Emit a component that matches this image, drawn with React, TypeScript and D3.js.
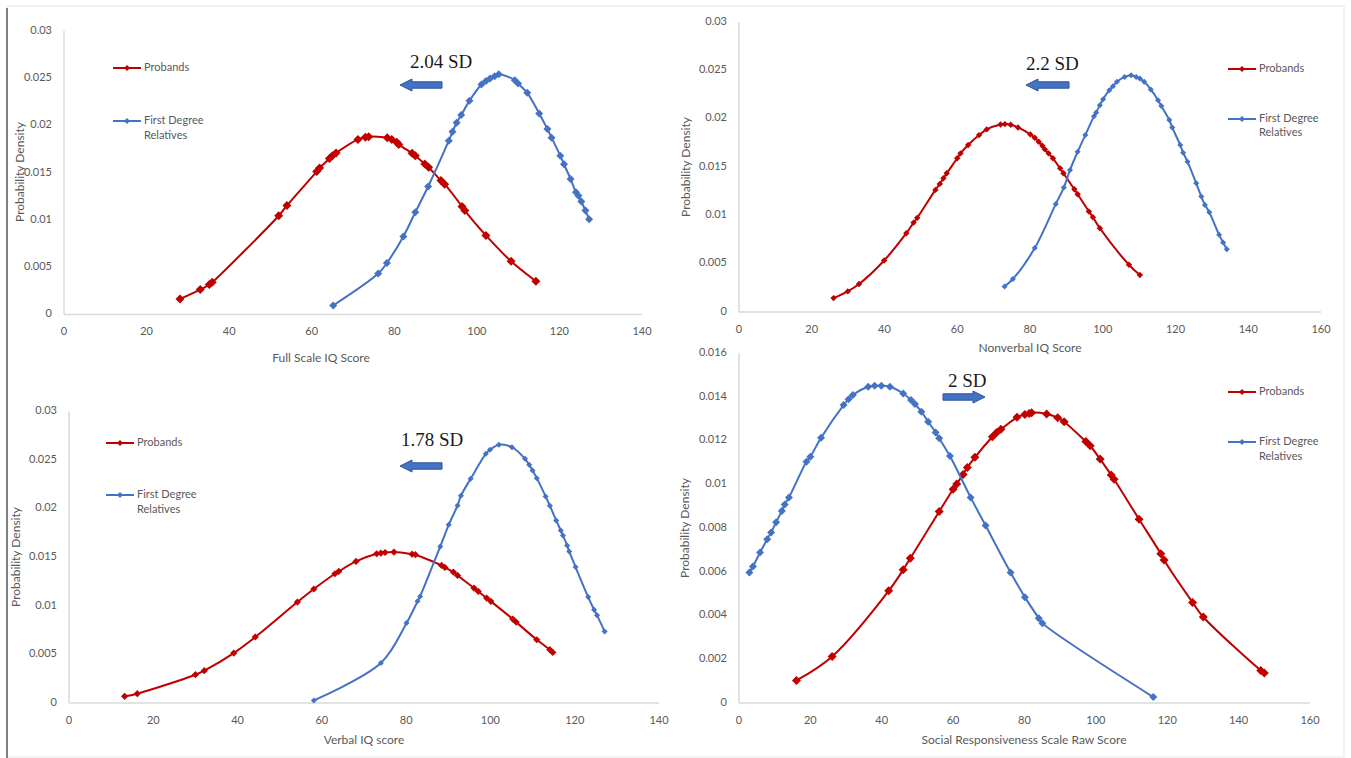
import React from 'react';
import * as d3 from 'd3';

type Pt = [number, number];

// ---------- DATA ----------
const fsiqProbands: Pt[] = [
  [28.1, 0.00165], [33.0, 0.00264], [35.2, 0.00317], [35.9, 0.0034], [52.0, 0.01045], [54.0, 0.01154],
  [61.2, 0.01512], [61.9, 0.0155], [64.3, 0.0165], [65.0, 0.0168], [65.9, 0.0171], [71.2, 0.01853],
  [73.0, 0.01875], [73.8, 0.01882], [78.3, 0.01871], [79.4, 0.01853], [80.6, 0.01822], [81.1, 0.018],
  [84.3, 0.01706], [85.1, 0.0168], [87.4, 0.01593], [88.3, 0.01558], [91.3, 0.01417], [92.2, 0.01379],
  [96.4, 0.01143], [97.1, 0.011], [102.2, 0.00837], [108.3, 0.00563], [114.3, 0.00352],
];
const fsiqRelatives: Pt[] = [
  [65.2, 0.00095], [76.1, 0.00433], [78.2, 0.00545], [82.2, 0.00826], [85.1, 0.01083], [88.2, 0.01354],
  [93.2, 0.01839], [94.1, 0.01934], [95.1, 0.0203], [96.2, 0.0211], [98.2, 0.02261], [101.1, 0.02434],
  [102.2, 0.02472], [103.2, 0.02497], [104.3, 0.02522], [105.3, 0.02543], [109.2, 0.0248], [110.0, 0.02444],
  [112.2, 0.02346], [115.1, 0.02128], [117.1, 0.01962], [118.1, 0.01871], [120.2, 0.01681], [121.1, 0.0159],
  [122.7, 0.01435], [124.0, 0.01294], [124.6, 0.01256], [125.3, 0.01196], [126.3, 0.011], [127.2, 0.01009],
];
const nviqProbands: Pt[] = [
  [26.0, 0.00144], [29.9, 0.00213], [33.0, 0.00289], [39.9, 0.00533], [46.0, 0.00815], [48.0, 0.00925],
  [49.0, 0.00974], [54.0, 0.01263], [55.2, 0.01325], [56.2, 0.01383], [57.1, 0.01435], [60.0, 0.0159],
  [60.9, 0.01641], [63.0, 0.01727], [66.0, 0.0183], [68.1, 0.01889], [71.9, 0.0194], [73.1, 0.01944],
  [74.7, 0.01937], [76.7, 0.01909], [80.1, 0.01837], [81.3, 0.01803], [82.4, 0.01761], [83.4, 0.0172],
  [84.1, 0.01682], [85.1, 0.01641], [86.3, 0.0159], [88.3, 0.01486], [89.2, 0.01435], [92.2, 0.0127],
  [93.1, 0.01218], [96.2, 0.01039], [97.3, 0.0098], [99.2, 0.00867], [107.2, 0.00489], [110.2, 0.00382],
];
const nviqRelatives: Pt[] = [
  [73.0, 0.00265], [75.3, 0.00341], [81.3, 0.00661], [87.1, 0.01118], [89.3, 0.01287], [91.0, 0.01469],
  [93.1, 0.01658], [95.2, 0.0183], [97.6, 0.02026], [98.2, 0.02064], [99.2, 0.0214], [100.1, 0.02202],
  [101.8, 0.02295], [102.8, 0.02336], [103.9, 0.02381], [106.0, 0.02432], [107.8, 0.0245], [109.2, 0.02432],
  [110.2, 0.02415], [111.4, 0.02381], [113.2, 0.02302], [115.2, 0.02191], [116.1, 0.0213], [118.3, 0.01985],
  [119.1, 0.01909], [121.3, 0.01727], [122.1, 0.01648], [123.3, 0.01555], [125.7, 0.01331], [127.1, 0.01194],
  [128.1, 0.01108], [129.3, 0.01032], [132.0, 0.00798], [133.1, 0.00719], [134.1, 0.0065],
];
const viqProbands: Pt[] = [
  [13.2, 0.00069], [16.2, 0.00096], [30.0, 0.00291], [32.1, 0.00333], [39.1, 0.00514], [44.2, 0.00679],
  [54.2, 0.01039], [58.1, 0.01173], [63.1, 0.0133], [64.0, 0.01354], [68.1, 0.01457], [73.0, 0.01536],
  [74.0, 0.01543], [75.0, 0.01549], [77.1, 0.01553], [81.4, 0.01532], [82.2, 0.01526], [88.4, 0.01416],
  [89.2, 0.01395], [91.2, 0.01347], [92.2, 0.01313], [96.1, 0.01183], [97.1, 0.01149], [99.1, 0.0108],
  [100.1, 0.01046], [105.3, 0.00864], [106.1, 0.00833], [111.0, 0.00651], [114.1, 0.00549], [114.8, 0.00521],
];
const viqRelatives: Pt[] = [
  [58.1, 0.00027], [74.0, 0.00411], [80.1, 0.00823], [82.7, 0.01046], [83.3, 0.01097], [88.1, 0.01611],
  [90.1, 0.01834], [92.2, 0.02033], [93.0, 0.02133], [95.3, 0.02307], [98.9, 0.02565], [99.9, 0.02606],
  [102.0, 0.02657], [105.1, 0.02633], [108.2, 0.02513], [109.2, 0.02451], [110.0, 0.02393], [111.0, 0.02314],
  [113.1, 0.02126], [114.1, 0.0203], [115.6, 0.01879], [116.7, 0.01776], [117.2, 0.01725], [118.2, 0.01622],
  [118.7, 0.0156], [120.2, 0.01399], [123.2, 0.0109], [124.6, 0.0096], [125.3, 0.00902], [127.1, 0.00737],
];
const srsProbands: Pt[] = [
  [16.1, 0.00103], [26.1, 0.00213], [41.95, 0.00513], [46.0, 0.00609], [48.0, 0.00662], [56.1, 0.00875],
  [60.0, 0.00977], [61.0, 0.01001], [62.8, 0.01045], [64.0, 0.01077], [66.1, 0.01123], [71.0, 0.01217],
  [72.2, 0.01237], [73.4, 0.01251], [77.9, 0.01306], [80.1, 0.01319], [81.3, 0.01324], [82.0, 0.01327],
  [86.2, 0.01321], [89.3, 0.01304], [91.1, 0.01286], [97.2, 0.01195], [98.4, 0.01176], [101.2, 0.01115],
  [104.3, 0.01042], [105.1, 0.01023], [112.1, 0.0084], [118.2, 0.00682], [119.1, 0.00654], [127.1, 0.0046],
  [130.1, 0.00393], [146.2, 0.00149], [147.2, 0.00137],
];
const srsRelatives: Pt[] = [
  [2.9, 0.00597], [3.9, 0.00624], [5.9, 0.00688], [7.9, 0.00749], [9.0, 0.00779], [10.4, 0.00826],
  [12.0, 0.00878], [12.8, 0.00908], [14.0, 0.0094], [18.9, 0.01103], [20.0, 0.01126], [23.0, 0.01213],
  [29.3, 0.01362], [30.7, 0.01389], [31.9, 0.01408], [36.2, 0.01446], [38.0, 0.0145], [39.9, 0.0145],
  [42.3, 0.01446], [46.0, 0.01415], [48.2, 0.01385], [49.3, 0.01367], [51.1, 0.01332], [53.0, 0.01286],
  [55.1, 0.01237], [56.1, 0.0121], [59.1, 0.01129], [64.9, 0.0094], [69.1, 0.00811], [76.1, 0.00597],
  [80.1, 0.00484], [84.0, 0.00388], [85.0, 0.00365], [116.1, 0.00027],
];

const probandsLabel = 'Probands';
const relativesLabel = ['First Degree', 'Relatives'];
const yTitle = 'Probability Density';
const xTitles = ['Full Scale IQ Score', 'Nonverbal IQ Score', 'Verbal IQ score', 'Social Responsiveness Scale Raw Score'];
const sdLabels = ['2.04 SD', '2.2 SD', '1.78 SD', '2 SD'];
const xMaxes = [140, 160, 140, 160];
const yMaxes = [0.03, 0.03, 0.03, 0.016];
const yTickSteps = [0.005, 0.005, 0.005, 0.002];
const xTickStep = 20;
const probandSeries = [fsiqProbands, nviqProbands, viqProbands, srsProbands];
const relativeSeries = [fsiqRelatives, nviqRelatives, viqRelatives, srsRelatives];

// ---------- LAYOUT ----------
const RED = '#C00000';
const BLUE = '#4472C4';
const GRAY_TXT = '#595959';
const AXIS = '#D9D9D9';
const SANS = 'Lato, "Open Sans", sans-serif';

interface Layout {
  x0: number; x1: number; y0: number; y1: number;
  legX: number; legY1: number; legY2: number; legY3: number;
  yTitleX: number; yTitleY: number; xTitleX: number; xTitleY: number;
  annX: number; annY: number; arrTip: number; arrTail: number; arrY: number;
  rRed: number; rBlue: number;
}

const layouts: Layout[] = [
  { x0: 64, x1: 642, y0: 314.5, y1: 31, legX: 113, legY1: 68, legY2: 121, legY3: 136,
    yTitleX: 21, yTitleY: 172, xTitleX: 321, xTitleY: 359,
    annX: 410, annY: 64, arrTip: 400, arrTail: 442, arrY: 85, rRed: 4.5, rBlue: 4 },
  { x0: 739, x1: 1321, y0: 312, y1: 22, legX: 1228, legY1: 69, legY2: 119, legY3: 133,
    yTitleX: 687, yTitleY: 167, xTitleX: 1030, xTitleY: 349,
    annX: 1026, annY: 66, arrTip: 1026, arrTail: 1069, arrY: 85, rRed: 3.2, rBlue: 3 },
  { x0: 69, x1: 659, y0: 703, y1: 411.5, legX: 106, legY1: 443, legY2: 495, legY3: 510,
    yTitleX: 17, yTitleY: 557, xTitleX: 364, xTitleY: 741,
    annX: 401, annY: 442, arrTip: 400, arrTail: 442, arrY: 466, rRed: 3.6, rBlue: 3 },
  { x0: 739, x1: 1310, y0: 703, y1: 353, legX: 1228, legY1: 392, legY2: 442, legY3: 457,
    yTitleX: 686, yTitleY: 528, xTitleX: 1024, xTitleY: 741,
    annX: 948, annY: 383, arrTip: 985, arrTail: 943, arrY: 397, rRed: 4.5, rBlue: 4 },
];

const diamond = (r: number) => `M0,${-r}L${r},0L0,${r}L${-r},0Z`;
const fmtY = (v: number) => (v === 0 ? '0' : String(+v.toFixed(3)));

function Arrow({ tip, tail, y }: { tip: number; tail: number; y: number }) {
  const dir = tail > tip ? 1 : -1; // body extends from tip in dir
  const head = 12;
  const bh = 3.2;
  const hh = 6;
  const hx = tip + dir * head;
  const d = `M${tip},${y}L${hx},${y - hh}L${hx},${y - bh}L${tail},${y - bh}L${tail},${y + bh}L${hx},${y + bh}L${hx},${y + hh}Z`;
  return <path d={d} fill={BLUE} stroke="#2F5597" strokeWidth={1} />;
}

function Panel({ i }: { i: number }) {
  const L = layouts[i];
  const x = d3.scaleLinear().domain([0, xMaxes[i]]).range([L.x0, L.x1]);
  const y = d3.scaleLinear().domain([0, yMaxes[i]]).range([L.y0, L.y1]);
  const xTicks = d3.range(0, xMaxes[i] + 0.001, xTickStep);
  const yTicks = d3.range(0, Math.round(yMaxes[i] / yTickSteps[i]) + 1).map((k) => k * yTickSteps[i]);
  const line = d3.line<Pt>().x((d) => x(d[0])).y((d) => y(d[1])).curve(d3.curveCatmullRom.alpha(0.5));

  const series = [
    { data: relativeSeries[i], color: BLUE, r: L.rBlue },
    { data: probandSeries[i], color: RED, r: L.rRed },
  ];
  // draw order: in panel 4 blue on top? keep red last except SRS
  const order = i === 3 ? [series[1], series[0]] : [series[1], series[0]];

  return (
    <g>
      {/* axes */}
      <line x1={L.x0} x2={L.x0} y1={L.y1} y2={L.y0} stroke={AXIS} strokeWidth={1.5} />
      <line x1={L.x0} x2={L.x1} y1={L.y0} y2={L.y0} stroke={AXIS} strokeWidth={1.5} />
      {yTicks.map((t) => (
        <text key={'y' + t} x={L.x0 - 12} y={y(t)} textAnchor="end" dominantBaseline="middle"
          fontFamily={SANS} fontSize={11} fill={GRAY_TXT}>{fmtY(t)}</text>
      ))}
      {xTicks.map((t) => (
        <text key={'x' + t} x={x(t)} y={L.y0 + 18} textAnchor="middle" dominantBaseline="middle"
          fontFamily={SANS} fontSize={11} fill={GRAY_TXT}>{t}</text>
      ))}
      <text x={L.xTitleX} y={L.xTitleY} textAnchor="middle" dominantBaseline="middle"
        fontFamily={SANS} fontSize={12} fill={GRAY_TXT}>{xTitles[i]}</text>
      <text transform={`translate(${L.yTitleX},${L.yTitleY}) rotate(-90)`} textAnchor="middle" dominantBaseline="middle"
        fontFamily={SANS} fontSize={12} fill={GRAY_TXT}>{yTitle}</text>

      {/* series */}
      {order.map((s, k) => (
        <g key={k}>
          <path d={line(s.data) || ''} fill="none" stroke={s.color} strokeWidth={2} />
          {s.data.map((d, j) => (
            <path key={j} d={diamond(s.r)} transform={`translate(${x(d[0])},${y(d[1])})`} fill={s.color} />
          ))}
        </g>
      ))}

      {/* legend */}
      <line x1={L.legX} x2={L.legX + 28} y1={L.legY1} y2={L.legY1} stroke={RED} strokeWidth={2} />
      <path d={diamond(3)} transform={`translate(${L.legX + 14},${L.legY1})`} fill={RED} />
      <text x={L.legX + 31} y={L.legY1} dominantBaseline="middle" fontFamily={SANS} fontSize={11} fill={GRAY_TXT}>{probandsLabel}</text>
      <line x1={L.legX} x2={L.legX + 28} y1={L.legY2} y2={L.legY2} stroke={BLUE} strokeWidth={2} />
      <path d={diamond(3)} transform={`translate(${L.legX + 14},${L.legY2})`} fill={BLUE} />
      <text x={L.legX + 31} y={L.legY2} dominantBaseline="middle" fontFamily={SANS} fontSize={11} fill={GRAY_TXT}>{relativesLabel[0]}</text>
      <text x={L.legX + 31} y={L.legY3} dominantBaseline="middle" fontFamily={SANS} fontSize={11} fill={GRAY_TXT}>{relativesLabel[1]}</text>

      {/* annotation */}
      <text x={L.annX} y={L.annY} dominantBaseline="middle" fontFamily='"Liberation Serif", "Times New Roman", serif'
        fontSize={19} fill="#1a1a1a">{sdLabels[i]}</text>
      <Arrow tip={L.arrTip} tail={L.arrTail} y={L.arrY} />
    </g>
  );
}

export default function App() {
  return (
    <svg width={1351} height={758} style={{ position: 'absolute', left: 0, top: 0, background: '#fff' }}>
      <rect x={0} y={0} width={1351} height={758} fill="#fff" />
      <rect x={7} y={6} width={1337} height={751} fill="none" stroke="#E6E6E6" strokeWidth={1} />
      <line x1={7} x2={7} y1={8} y2={758} stroke="#7F7F7F" strokeWidth={2} />
      {[0, 1, 2, 3].map((i) => <Panel key={i} i={i} />)}
    </svg>
  );
}
